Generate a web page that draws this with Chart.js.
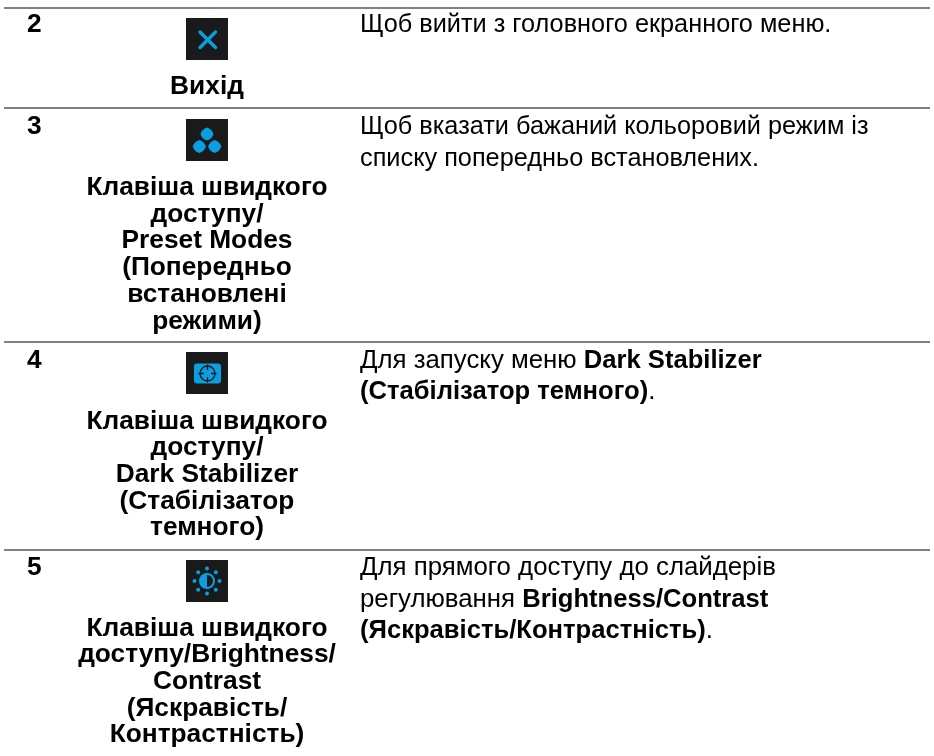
<!DOCTYPE html>
<html lang="uk">
<head>
    <meta charset="UTF-8">
    <title>Клавіші меню</title>
    <style>
        html, body { margin: 0; padding: 0; background: #fff; }
        #myChart { display: block; }
    </style>
</head>
<body>
    <canvas id="myChart" width="934" height="756"></canvas>
    <script src="https://cdn.jsdelivr.net/npm/chart.js"></script>
    <script>
        // table content, one entry per row
        const rowNumbers = ['2', '3', '4', '5']
        const rowIcons = ['close', 'modes', 'stabilizer', 'brightness']
        const rowLabels = [
            ['Вихід'],
            ['Клавіша швидкого', 'доступу/', 'Preset Modes', '(Попередньо', 'встановлені', 'режими)'],
            ['Клавіша швидкого', 'доступу/', 'Dark Stabilizer', '(Стабілізатор', 'темного)'],
            ['Клавіша швидкого', 'доступу/Brightness/', 'Contrast', '(Яскравість/', 'Контрастність)']
        ]
        // | toggles bold inside a line
        const rowTexts = [
            ['Щоб вийти з головного екранного меню.'],
            ['Щоб вказати бажаний кольоровий режим із', 'списку попередньо встановлених.'],
            ['Для запуску меню |Dark Stabilizer|', '|(Стабілізатор темного)|.'],
            ['Для прямого доступу до слайдерів', 'регулювання |Brightness/Contrast|', '|(Яскравість/Контрастність)|.']
        ]
        // in page pixels
        const ruleRows = [8, 108, 342, 550]
        const iconRows = [39, 140, 373, 581]
        const numberRows = [32, 134, 368, 575]
        const labelRows = [94, 195, 428.5, 635.5]
        const textRows = [32, 134, 367.5, 575]
        const ruleStart = 4
        const ruleEnd = 930
        const iconColumn = 207

        const FONT = '"Liberation Sans", Arial, sans-serif'
        const LABEL_X = 207, NUMBER_X = 27, TEXT_X = 360
        const BLUE = '#0a9fe0', DARK = '#1a1a1a'
        const TEXT_SIZES = [25.3, 25.3, 25.8, 25.8]
        const BOLD_SIZE = 25.6
        const LABEL_SIZE = 26.3
        const LABEL_STEP = 26.7
        const TEXT_STEP = 31.5

        function makeIcon(name) {
            const c = document.createElement('canvas')
            c.width = 42
            c.height = 42
            const g = c.getContext('2d')
            g.fillStyle = DARK
            g.fillRect(0, 0, 42, 42)
            g.fillStyle = BLUE
            g.strokeStyle = BLUE
            if (name === 'close') {
                g.lineWidth = 3.4
                g.lineCap = 'round'
                g.beginPath()
                g.moveTo(14, 14); g.lineTo(29.5, 29.5)
                g.moveTo(29.5, 14); g.lineTo(14, 29.5)
                g.stroke()
            } else if (name === 'modes') {
                const dots = [[21, 15], [13.3, 27.5], [28.7, 27.5]]
                dots.forEach(d => {
                    g.beginPath()
                    g.moveTo(d[0], d[1] - 6.5)
                    g.quadraticCurveTo(d[0] + 5, d[1] - 5, d[0] + 6.5, d[1])
                    g.quadraticCurveTo(d[0] + 5, d[1] + 5, d[0], d[1] + 6.5)
                    g.quadraticCurveTo(d[0] - 5, d[1] + 5, d[0] - 6.5, d[1])
                    g.quadraticCurveTo(d[0] - 5, d[1] - 5, d[0], d[1] - 6.5)
                    g.fill()
                })
            } else if (name === 'stabilizer') {
                g.beginPath()
                g.roundRect(8, 11.5, 27, 20, 3)
                g.fill()
                g.strokeStyle = DARK
                g.lineWidth = 1.3
                g.beginPath()
                g.arc(21.5, 21.5, 7.5, 0, Math.PI * 2)
                g.moveTo(21.5, 12.5); g.lineTo(21.5, 18)
                g.moveTo(21.5, 25); g.lineTo(21.5, 30.5)
                g.moveTo(12.5, 21.5); g.lineTo(18, 21.5)
                g.moveTo(25, 21.5); g.lineTo(30.5, 21.5)
                g.stroke()
            } else {
                g.beginPath()
                g.arc(21, 21, 7, 0, Math.PI * 2)
                g.lineWidth = 2
                g.stroke()
                g.beginPath()
                g.arc(21, 21, 7, Math.PI / 2, Math.PI * 1.5)
                g.fill()
                for (let i = 0; i < 8; i++) {
                    const a = i * Math.PI / 4
                    g.beginPath()
                    g.arc(21 + Math.cos(a) * 12.5, 21 + Math.sin(a) * 12.5, 2, 0, Math.PI * 2)
                    g.fill()
                }
            }
            return c
        }

        function lineSegments(g, line, x, y, size) {
            line.split('|').forEach((part, i) => {
                g.font = (i % 2 ? 'bold ' + BOLD_SIZE : size) + 'px ' + FONT
                g.fillText(part, x, y)
                x += g.measureText(part).width
            })
        }

        const tablePlugin = {
            id: 'tableText',
            afterDatasetsDraw(chart) {
                const g = chart.ctx
                const sx = chart.scales.x, sy = chart.scales.y
                g.save()
                g.fillStyle = '#000'
                g.textBaseline = 'alphabetic'
                rowNumbers.forEach((n, r) => {
                    g.textAlign = 'left'
                    g.font = 'bold ' + LABEL_SIZE + 'px ' + FONT
                    g.fillText(n, sx.getPixelForValue(NUMBER_X), sy.getPixelForValue(numberRows[r]))

                    g.textAlign = 'center'
                    rowLabels[r].forEach((t, i) => {
                        g.fillText(t, sx.getPixelForValue(LABEL_X), sy.getPixelForValue(labelRows[r] + i * LABEL_STEP))
                    })

                    g.textAlign = 'left'
                    rowTexts[r].forEach((t, i) => {
                        lineSegments(g, t, sx.getPixelForValue(TEXT_X), sy.getPixelForValue(textRows[r] + i * TEXT_STEP), TEXT_SIZES[r])
                    })
                })
                g.restore()
            }
        }

        const ruleSets = ruleRows.map(y => ({
            type: 'line',
            data: [{ x: ruleStart, y: y }, { x: ruleEnd, y: y }],
            borderColor: '#808080',
            borderWidth: 2,
            pointRadius: 0
        }))

        const ctx = document.getElementById('myChart')
        const myChart = new Chart(ctx, {
            type: 'scatter',
            data: {
                datasets: [...ruleSets, {
                    data: iconRows.map(y => ({ x: iconColumn, y: y })),
                    pointStyle: rowIcons.map(makeIcon),
                    pointRadius: 21
                }]
            },
            options: {
                responsive: false,
                animation: false,
                layout: { padding: 0, autoPadding: false },
                plugins: { legend: { display: false }, tooltip: { enabled: false } },
                scales: {
                    x: { type: 'linear', min: 0, max: 934, display: false },
                    y: { type: 'linear', min: 0, max: 756, reverse: true, display: false }
                }
            },
            plugins: [tablePlugin]
        })
    </script>
</body>
</html>
